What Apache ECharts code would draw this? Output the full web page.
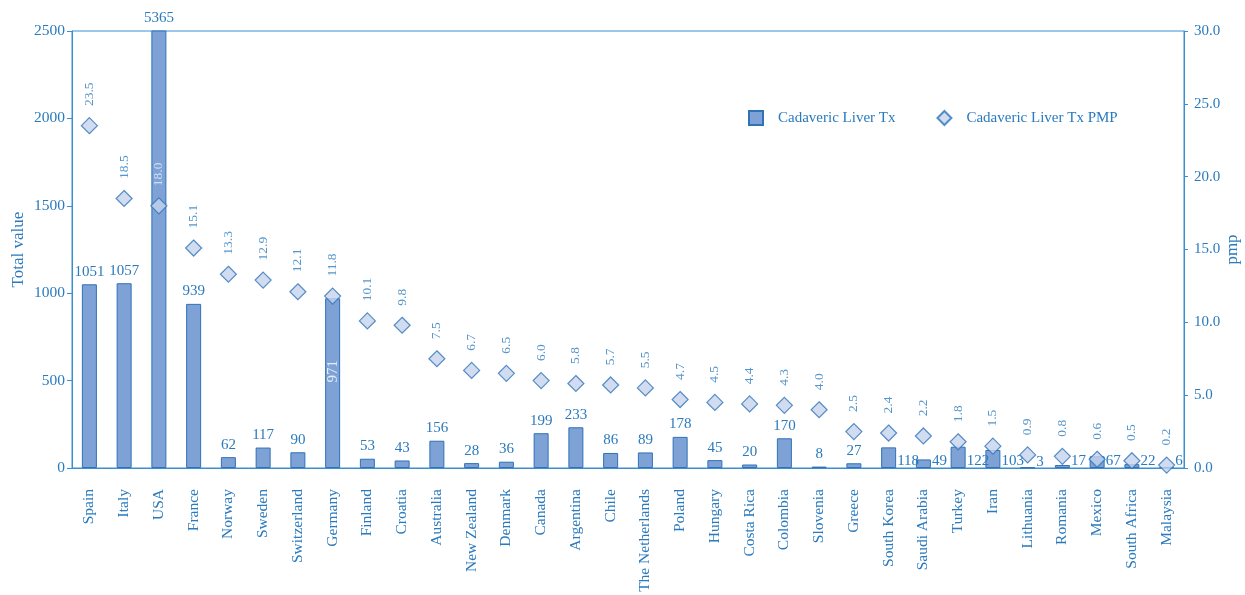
<!DOCTYPE html>
<html><head><meta charset="utf-8">
<script src="https://cdn.jsdelivr.net/npm/echarts@6/dist/echarts.min.js"></script>
<style>html,body{margin:0;padding:0;background:#fff}#c{width:1245px;height:595px}</style>
</head><body><div id="c"></div>
<script>
var categories = ['Spain','Italy','USA','France','Norway','Sweden','Switzerland','Germany','Finland','Croatia','Australia','New Zealand','Denmark','Canada','Argentina','Chile','The Netherlands','Poland','Hungary','Costa Rica','Colombia','Slovenia','Greece','South Korea','Saudi Arabia','Turkey','Iran','Lithuania','Romania','Mexico','South Africa','Malaysia'];
var totalTx = [1051,1057,5365,939,62,117,90,971,53,43,156,28,36,199,233,86,89,178,45,20,170,8,27,118,49,122,103,3,17,67,22,6];
var pmp = [23.5,18.5,18.0,15.1,13.3,12.9,12.1,11.8,10.1,9.8,7.5,6.7,6.5,6.0,5.8,5.7,5.5,4.7,4.5,4.4,4.3,4.0,2.5,2.4,2.2,1.8,1.5,0.9,0.8,0.6,0.5,0.2];
var leftTicks = {min:0, max:2500, interval:500};
var rightTicks = {min:0, max:30, interval:5};

var TXT = '#2a7abd', LINE = '#3b8fd0', FONT = '"Liberation Serif", "DejaVu Serif", serif';
var insideBarIdx = {7:true};      // Germany: label inside bar
var sideLabelStart = 23;          // from South Korea on: labels beside bars

var barData = totalTx.map(function(v, i){
  var d = {value: v};
  if (insideBarIdx[i]) {
    d.label = {position: ['50%','43%'], rotate: 90, align: 'center', verticalAlign: 'middle', color: '#e4ecf8'};
  } else if (i >= sideLabelStart) {
    d.label = {position: ['100%','100%'], align: 'left', verticalAlign: 'bottom', offset: [1, 1]};
  }
  return d;
});
var pmpData = pmp.map(function(v, i){
  var d = {value: v};
  if (i === 2) d.label = {color: '#e4ecf8'};
  return d;
});

var chart = echarts.init(document.getElementById('c'));
chart.setOption({
  animation: false,
  textStyle: {fontFamily: FONT, color: TXT},
  grid: {left: 72, right: 61, top: 31, bottom: 127, show: true, borderColor: LINE, borderWidth: 1,
         containLabel: false, outerBoundsMode: 'none'},
  legend: {
    left: 743, top: 105, itemGap: 41, itemWidth: 14, itemHeight: 14,
    textStyle: {fontFamily: FONT, fontSize: 15, color: TXT, padding: [0, 0, 0, 10]},
    data: [{name: 'Cadaveric Liver Tx', icon: 'rect'}, {name: 'Cadaveric Liver Tx PMP', icon: 'diamond'}]
  },
  xAxis: {
    type: 'category', data: categories, boundaryGap: true,
    axisLine: {lineStyle: {color: LINE}},
    axisTick: {interval: 0, length: 5, lineStyle: {color: LINE}},
    axisLabel: {interval: 0, rotate: 90, fontSize: 15.5, color: TXT, fontFamily: FONT, margin: 21}
  },
  yAxis: [{
    type: 'value', min: leftTicks.min, max: leftTicks.max, interval: leftTicks.interval,
    name: 'Total value', nameLocation: 'middle', nameGap: 45, nameRotate: 90, nameMoveOverlap: false,
    nameTextStyle: {fontSize: 17, color: TXT, fontFamily: FONT},
    axisLine: {show: true, lineStyle: {color: LINE}},
    axisTick: {show: true, length: 5, lineStyle: {color: LINE}},
    axisLabel: {fontSize: 15.5, color: TXT, fontFamily: FONT, margin: 7, formatter: function(v){return String(v);}},
    splitLine: {show: false}
  }, {
    type: 'value', min: rightTicks.min, max: rightTicks.max, interval: rightTicks.interval,
    position: 'right',
    name: 'pmp', nameLocation: 'middle', nameGap: 40, nameRotate: 90, nameMoveOverlap: false,
    nameTextStyle: {fontSize: 17, color: TXT, fontFamily: FONT},
    axisLine: {show: true, lineStyle: {color: LINE}},
    axisTick: {show: true, length: 4, inside: false, lineStyle: {color: LINE}},
    axisLabel: {fontSize: 15, color: TXT, fontFamily: FONT, margin: 10, formatter: function(v){return v.toFixed(1);}},
    splitLine: {show: false}
  }],
  series: [{
    name: 'Cadaveric Liver Tx', type: 'bar', yAxisIndex: 0, barWidth: 15,
    data: barData,
    itemStyle: {color: '#7ea2d5', borderColor: '#2f72b8', borderWidth: 1},
    label: {show: true, position: 'top', distance: 5, fontSize: 15, color: TXT, fontFamily: FONT},
    z: 2
  }, {
    name: 'Cadaveric Liver Tx PMP', type: 'scatter', yAxisIndex: 1,
    symbol: 'diamond', symbolSize: 16,
    data: pmpData,
    itemStyle: {color: '#c5d3ee', borderColor: '#2f74b8', borderWidth: 1.2},
    label: {show: true, position: 'top', rotate: 90, align: 'left', verticalAlign: 'middle', distance: 11,
            fontSize: 13.5, color: TXT, fontFamily: FONT,
            formatter: function(p){ return p.value.toFixed(1); }},
    z: 3
  }]
});
</script></body></html>
